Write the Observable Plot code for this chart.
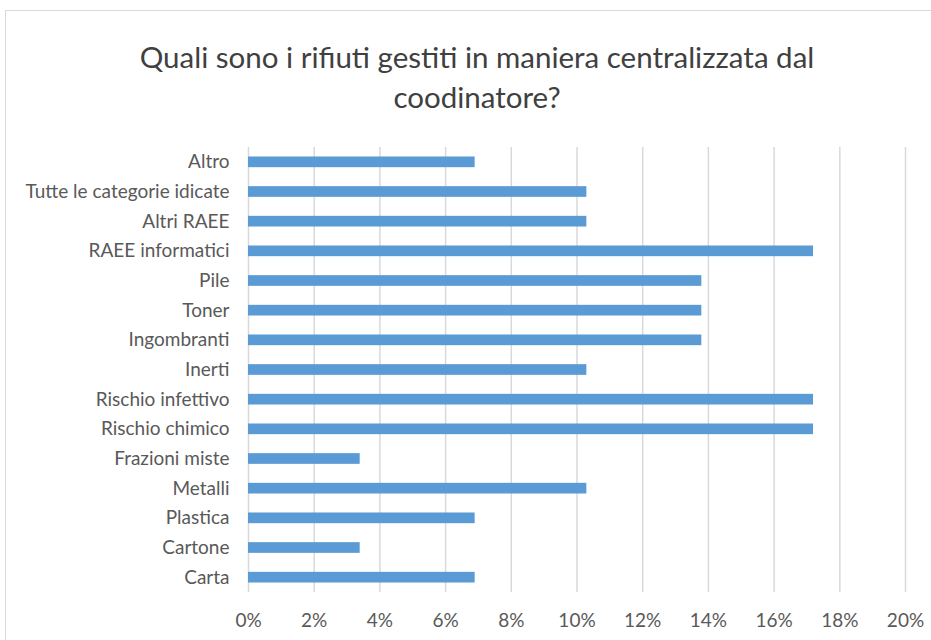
<!DOCTYPE html>
<html><head><meta charset="utf-8">
<script src="https://cdn.jsdelivr.net/npm/d3@7"></script>
<script src="https://cdn.jsdelivr.net/npm/@observablehq/plot@0.6"></script>
<style>
body{margin:0;background:#fff;}
#wrap{position:relative;width:931px;height:640px;overflow:hidden;font-family:Lato,"Open Sans",sans-serif;}
#frame{position:absolute;left:5px;top:10px;width:940px;height:650px;border:1px solid #d9d9d9;box-sizing:border-box;}
#title{position:absolute;left:0;top:37px;width:954px;text-align:center;font-size:29.5px;line-height:40px;color:#404040;}
#chart{position:absolute;left:0;top:0;}
#chart svg text{font-size:19px;fill:#595959;}
</style></head>
<body>
<div id="wrap">
<div id="frame"></div>
<div id="title">Quali sono i rifiuti gestiti in maniera centralizzata dal<br>coodinatore?</div>
<div id="chart"></div>
</div>
<script>
const categories = ["Altro","Tutte le categorie idicate","Altri RAEE","RAEE informatici","Pile","Toner","Ingombranti","Inerti","Rischio infettivo","Rischio chimico","Frazioni miste","Metalli","Plastica","Cartone","Carta"];
const values = [0.069,0.103,0.103,0.172,0.138,0.138,0.138,0.103,0.172,0.172,0.034,0.103,0.069,0.034,0.069];
const xTicks = [0,0.02,0.04,0.06,0.08,0.10,0.12,0.14,0.16,0.18,0.20];
const data = categories.map((c,i)=>({cat:c,val:values[i]}));

const chart = Plot.plot({
  width:931, height:640,
  marginTop:147, marginBottom:48, marginLeft:248, marginRight:26,
  style:{fontFamily:"Lato, 'Open Sans', sans-serif", fontSize:"19px", color:"#595959", background:"transparent"},
  x:{domain:[0,0.2], ticks:xTicks, tickFormat:d=>Math.round(d*100)+"%", label:null},
  y:{domain:categories, paddingInner:0.64, paddingOuter:0.32, round:false, label:null},
  marks:[
    Plot.ruleX(xTicks,{stroke:"#d9d9d9",strokeWidth:1.5}),
    Plot.barX(data,{x:"val",y:"cat",fill:"#5b9bd5"}),
    Plot.axisX({ticks:xTicks, tickSize:0, tickPadding:21, tickFormat:d=>Math.round(d*100)+"%", label:null}),
    Plot.axisY({tickSize:0, tickPadding:19, label:null})
  ]
});
document.getElementById("chart").appendChild(chart);
</script>
</body></html>
